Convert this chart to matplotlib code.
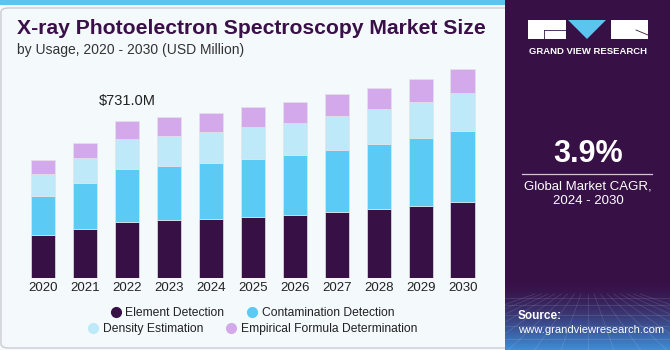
import numpy as np
import matplotlib.pyplot as plt
from matplotlib.patches import Rectangle, FancyBboxPatch, Polygon
from matplotlib.lines import Line2D

years = ['2020', '2021', '2022', '2023', '2024', '2025', '2026', '2027', '2028', '2029', '2030']
element = [201, 230, 262, 271, 277, 286, 296, 308, 323, 337, 353]
contamination = [183, 211, 248, 251, 260, 268, 277, 290, 301, 315, 331]
density = [102, 116, 135, 139, 141, 149, 150, 157, 161, 169, 177]
empirical = [64, 72, 87, 87, 90, 92, 95, 99, 100, 104, 110]
series_names = ['Element Detection', 'Contamination Detection',
                'Density Estimation', 'Empirical Formula Determination']
colors = ['#371046', '#5bcaf5', '#bde9f9', '#d4a9eb']
highlight_label = '$731.0M'
highlight_idx = 2

W, H = 670, 350


def fx(px):
    return px / W


def fy(py):
    return 1 - py / H


fig = plt.figure(figsize=(6.7, 3.5), dpi=100)
fig.patch.set_facecolor('#f4f9fc')

# left panel frame + top accent strip
frame = FancyBboxPatch((fx(1), fy(348)), fx(520), 340 / H,
                       boxstyle='round,pad=0,rounding_size=0.012',
                       transform=fig.transFigure, facecolor='#f4f9fc',
                       edgecolor='#c9ccd0', linewidth=1.0, zorder=0)
fig.add_artist(frame)
fig.add_artist(Rectangle((0, fy(5)), fx(505), 5 / H, transform=fig.transFigure,
                         facecolor='#5bc5ef', edgecolor='none', zorder=1))

# right panel
fig.add_artist(Rectangle((fx(505), 0), fx(165), 1, transform=fig.transFigure,
                         facecolor='#371046', edgecolor='none', zorder=2))
grad_ax = fig.add_axes([fx(505), 0, fx(165), 70 / H], zorder=3)
g = np.linspace(0, 1, 100)[:, None]
top = np.array([0x37, 0x10, 0x46]) / 255
bot = np.array([0x3f, 0x8e, 0xd8]) / 255
t = g[:, :, None] ** 1.6
img = top[None, None, :] * (1 - t) + bot[None, None, :] * t
grad_ax.imshow(np.repeat(img, 10, axis=1), aspect='auto', extent=[0, 1, 0, 1], origin='upper')
for i in range(-8, 9):
    grad_ax.plot([0.5 + i * 0.04, 0.5 + i * 0.16], [0.8, 0], color='white', alpha=0.12, lw=0.6)
for yy in [0.75, 0.64, 0.5, 0.34, 0.16]:
    grad_ax.plot([0, 1], [yy, yy], color='white', alpha=0.12, lw=0.6)
grad_ax.set_xlim(0, 1)
grad_ax.set_ylim(0, 1)
grad_ax.axis('off')

# logo
fig.add_artist(Rectangle((fx(528), fy(39)), fx(38), 19 / H, transform=fig.transFigure,
                         facecolor='white', edgecolor='none', zorder=4))
fig.add_artist(Line2D([fx(544), fx(566)], [fy(30), fy(30)], transform=fig.transFigure,
                      color='#371046', lw=0.6, zorder=5))
fig.add_artist(Line2D([fx(544), fx(544)], [fy(30), fy(39)], transform=fig.transFigure,
                      color='#371046', lw=0.6, zorder=5))
fig.add_artist(Rectangle((fx(611), fy(39)), fx(37), 19 / H, transform=fig.transFigure,
                         facecolor='white', edgecolor='none', zorder=4))
fig.add_artist(Line2D([fx(636), fx(648)], [fy(30), fy(35)], transform=fig.transFigure,
                      color='#371046', lw=0.6, zorder=5))
fig.add_artist(Polygon([(fx(568), fy(20)), (fx(606), fy(20)), (fx(587), fy(39))],
                       transform=fig.transFigure, facecolor='#5bc5ef', edgecolor='none', zorder=4))
fig.text(fx(588), fy(51), 'GRAND VIEW RESEARCH', color='white', fontsize=6.8,
         fontweight='bold', ha='center', va='center', family='Liberation Sans', zorder=5)

fig.text(fx(588), fy(154), '3.9%', color='white', fontsize=22, fontweight='bold',
         ha='center', va='center', family='Liberation Sans', zorder=5)
fig.add_artist(Line2D([fx(522), fx(652)], [fy(173.5), fy(173.5)], transform=fig.transFigure,
                      color='#cfc6d6', lw=0.9, zorder=5))
fig.text(fx(588), fy(186), 'Global Market CAGR,', color='white', fontsize=9.5,
         ha='center', va='center', family='Liberation Sans', zorder=5)
fig.text(fx(588), fy(201), '2024 - 2030', color='white', fontsize=9.5,
         ha='center', va='center', family='Liberation Sans', zorder=5)
fig.text(fx(518), fy(316), 'Source:', color='white', fontsize=8.5, fontweight='bold',
         ha='left', va='center', family='Liberation Sans', zorder=5)
fig.text(fx(518), fy(330), 'www.grandviewresearch.com', color='white', fontsize=8.1,
         ha='left', va='center', family='Liberation Sans', zorder=5)

# titles
fig.text(fx(17), fy(29), 'X-ray Photoelectron Spectroscopy Market Size', color='#3a1048',
         fontsize=15.2, fontweight='bold', ha='left', va='center', family='Liberation Sans')
fig.text(fx(17), fy(50), 'by Usage, 2020 - 2030 (USD Million)', color='#333333',
         fontsize=10, ha='left', va='center', family='Liberation Sans')

# chart
ax = fig.add_axes([fx(22.3), fy(278.3), fx(461.3), 218.3 / H], zorder=3)
ax.set_facecolor('none')
x = np.arange(len(years))
bottom = np.zeros(len(years))
for vals, c in zip([element, contamination, density, empirical], colors):
    ax.bar(x, vals, width=0.58, bottom=bottom, color=c, edgecolor='#e4e2ea', linewidth=0.5)
    bottom += np.array(vals)
ax.set_xlim(-0.5, len(years) - 0.5)
ax.set_ylim(0, 1014)
ax.set_xticks(x)
ax.set_xticklabels(years, fontsize=9.5, color='#222222', family='Liberation Sans')
ax.tick_params(axis='x', length=0, pad=3)
ax.set_yticks([])
for s in ax.spines.values():
    s.set_visible(False)
ax.text(highlight_idx, bottom[highlight_idx] + 60, highlight_label, ha='center', va='bottom',
        fontsize=10.5, color='#222222', family='Liberation Sans')

# legend: two centred rows
handles = [Line2D([], [], marker='o', linestyle='', markersize=7, markerfacecolor=c,
                  markeredgecolor=c) for c in colors]
for row, ypx in [(0, 313), (1, 329)]:
    leg = fig.legend(handles[row * 2:row * 2 + 2], series_names[row * 2:row * 2 + 2],
                     loc='center', bbox_to_anchor=(fx(252), fy(ypx)), ncol=2, frameon=False,
                     prop={'family': 'Liberation Sans', 'size': 8.7}, handletextpad=0.3,
                     columnspacing=1.8, handlelength=1.0, borderaxespad=0, borderpad=0)
    for t in leg.get_texts():
        t.set_color('#222222')

fig.savefig('out.png', dpi=100, facecolor=fig.get_facecolor())
